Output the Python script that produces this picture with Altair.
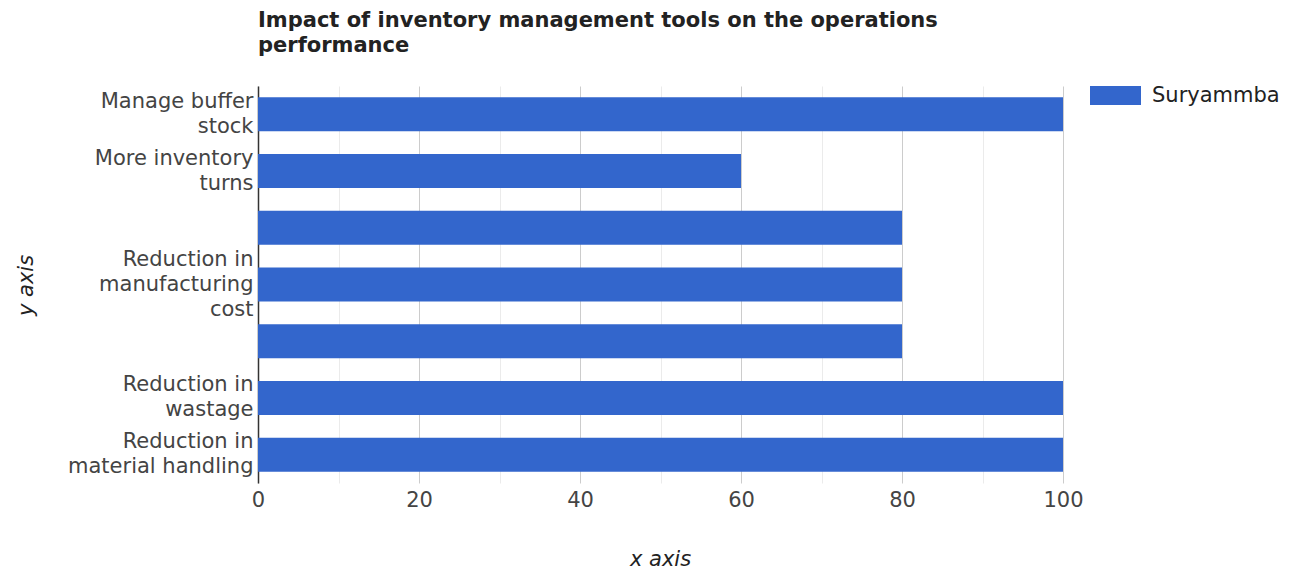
import altair as alt
import pandas as pd

# Categories (top to bottom); "|" marks a line break in the axis label,
# entries starting with "#" are bars whose label is not shown in the reference.
categories = [
    "Manage buffer|stock",
    "More inventory|turns",
    "#hidden-3",
    "Reduction in|manufacturing|cost",
    "#hidden-5",
    "Reduction in|wastage",
    "Reduction in|material handling",
]
values = [100, 60, 80, 80, 80, 100, 100]
series_name = "Suryammba"
x_ticks = [0, 10, 20, 30, 40, 50, 60, 70, 80, 90, 100]

df = pd.DataFrame({"category": categories, "value": values, "series": [series_name] * len(values)})

FONT = "DejaVu Sans"
FS = 21

bars = alt.Chart(df).mark_bar(color="#3366cc").encode(
    x=alt.X(
        "value:Q",
        scale=alt.Scale(domain=[0, 100], nice=False),
        axis=alt.Axis(
            title="x axis",
            values=x_ticks,
            labelExpr="datum.value % 20 == 0 ? datum.label : ''",
            gridColor=alt.condition("datum.value % 20 == 0", alt.value("#cccccc"), alt.value("#ebebeb")),
            grid=True,
            ticks=False,
            domain=False,
            labelFlush=False,
            labelFontSize=FS,
            labelColor="#444444",
            labelPadding=6,
            labelFont=FONT,
            titleFont=FONT,
            titleFontSize=FS,
            titleFontStyle="italic",
            titleFontWeight="normal",
            titleColor="#222222",
            titleX=402,
            titleY=76,
            titleBaseline="middle",
        ),
    ),
    y=alt.Y(
        "category:N",
        sort=categories,
        scale=alt.Scale(paddingInner=0.4, paddingOuter=0.2),
        axis=alt.Axis(
            title="y axis",
            labelExpr="indexof(datum.value, '#') == 0 ? '' : split(datum.value, '|')",
            labelOffset=alt.condition(
                "indexof(datum.value, 'manufacturing') >= 0", alt.value(-25), alt.value(-12.5)
            ),
            ticks=False,
            domain=True,
            domainColor="#333333",
            domainWidth=1.5,
            grid=False,
            labelFontSize=FS,
            labelColor="#444444",
            labelPadding=5,
            labelLineHeight=25,
            labelFont=FONT,
            labelLimit=400,
            titleFont=FONT,
            titleFontSize=FS,
            titleFontStyle="italic",
            titleFontWeight="normal",
            titleColor="#222222",
            titleAngle=270,
            titleX=-232,
            titleY=199,
            titleAlign="center",
            titleBaseline="middle",
        ),
    ),
    color=alt.Color(
        "series:N",
        scale=alt.Scale(range=["#3366cc"]),
        legend=alt.Legend(
            title=None,
            orient="none",
            legendX=832,
            legendY=-16,
            symbolType="M-1,-0.37H1V0.37H-1Z",
            symbolSize=2601,
            symbolStrokeWidth=0,
            symbolOpacity=1,
            labelFontSize=FS,
            labelFont=FONT,
            labelColor="#222222",
            labelOffset=11,
        ),
    ),
)

chart = bars.properties(
    width=805,
    height=397,
    autosize=alt.AutoSizeParams(type="none"),
    padding={"left": 258, "top": 86, "right": 239, "bottom": 86},
    title=alt.Title(
        ["Impact of inventory management tools on the operations", "performance"],
        anchor="start",
        frame="group",
        font=FONT,
        fontSize=21,
        fontWeight="bold",
        color="#222222",
        lineHeight=25,
        offset=14,
    ),
).configure_view(stroke=None)

chart.save("out.html", embed_options={"renderer": "svg", "actions": False})
